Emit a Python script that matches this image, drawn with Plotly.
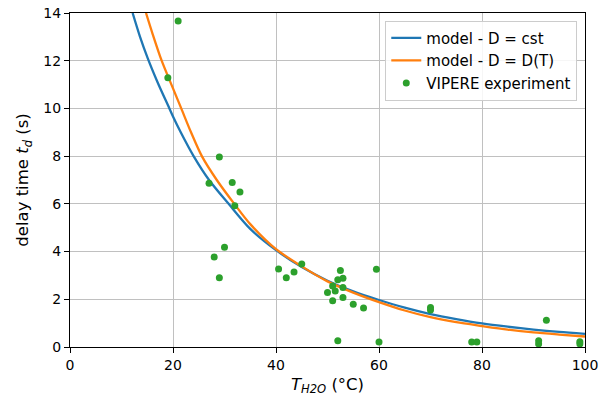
import plotly.graph_objects as go

# model curves
cst_T = [12.16, 13.6, 15.1, 17, 19.3, 20, 21.5, 24, 27, 30.8, 35, 40, 45, 50, 55, 60, 65, 70, 75, 80, 85, 90, 95, 100]
td_cst = [14.0, 13.0, 12.1, 11.1, 10.0, 9.66, 9.0, 8.0, 7.0, 6.0, 4.95, 4.06, 3.35, 2.78, 2.33, 1.97, 1.65, 1.38, 1.17, 0.99, 0.85, 0.73, 0.63, 0.55]

dt_T = [14.76, 16, 17.8, 20, 21.6, 23.5, 25.6, 28.5, 31.9, 35, 40, 45, 50, 55, 60, 65, 70, 75, 80, 85, 90, 95, 100]
td_DT = [14.0, 13.15, 12.0, 10.84, 10.0, 9.0, 8.0, 7.0, 6.0, 5.15, 4.1, 3.38, 2.75, 2.28, 1.88, 1.53, 1.25, 1.04, 0.88, 0.73, 0.61, 0.52, 0.44]

# VIPERE experiment points
exp_T = [21, 19, 29, 27, 31.5, 33, 32, 30, 28, 29, 40.5, 42, 43.5, 45,
         52.5, 52, 53, 51, 51.5, 53, 50, 51, 53, 55, 57, 59.5, 52, 60,
         70, 70, 92.5, 78, 79, 91, 91, 99, 99]
exp_td = [13.66, 11.29, 7.96, 6.86, 6.9, 6.5, 5.92, 4.18, 3.77, 2.9, 3.27, 2.9, 3.14, 3.48,
          3.21, 2.82, 2.88, 2.56, 2.35, 2.49, 2.28, 1.94, 2.07, 1.79, 1.63, 3.26, 0.26, 0.21,
          1.66, 1.55, 1.12, 0.21, 0.21, 0.26, 0.13, 0.22, 0.13]

font = "DejaVu Sans"

fig = go.Figure()
fig.add_trace(go.Scatter(x=cst_T, y=td_cst, mode="lines", line_shape="spline",
                         line=dict(color="#1f77b4", width=2.3, smoothing=0.8), name="model - D = cst"))
fig.add_trace(go.Scatter(x=dt_T, y=td_DT, mode="lines", line_shape="spline",
                         line=dict(color="#ff7f0e", width=2.3, smoothing=0.8), name="model - D = D(T)"))
fig.add_trace(go.Scatter(x=exp_T, y=exp_td, mode="markers",
                         marker=dict(color="#2ca02c", size=7), name="VIPERE experiment"))

axis_style = dict(
    showline=True, linecolor="black", linewidth=1, mirror=True,
    ticks="outside", ticklen=5, tickcolor="black", tickwidth=1,
    showgrid=True, gridcolor="#c0c0c0", gridwidth=1, zeroline=False,
    tickfont=dict(family=font, size=14, color="black"),
    automargin=False,
)

fig.update_layout(
    width=600, height=403,
    margin=dict(l=70, r=15, t=13, b=56),
    paper_bgcolor="white", plot_bgcolor="white",
    font=dict(family=font, color="black"),
    xaxis=dict(range=[0, 100], tickvals=[0, 20, 40, 60, 80, 100],
               title=dict(text="<i>T</i><sub><i>H2O</i></sub> (°C)", font=dict(size=16.5), standoff=6),
               **axis_style),
    yaxis=dict(range=[0, 14], tickvals=[0, 2, 4, 6, 8, 10, 12, 14],
               title=dict(text="delay time <i>t</i><sub><i>d</i></sub> (s)", font=dict(size=16.5), standoff=10),
               **axis_style),
    legend=dict(x=0.985, y=0.977, xanchor="right", yanchor="top",
                bgcolor="rgba(255,255,255,0.85)", bordercolor="#cccccc", borderwidth=1,
                font=dict(family=font, size=15), tracegroupgap=0),
    showlegend=True,
)

# page body has a default margin; drop it so the figure sits at the window corner
fig.write_html("out.html", config={"displayModeBar": False},
               post_script="document.body.style.margin='0';")
